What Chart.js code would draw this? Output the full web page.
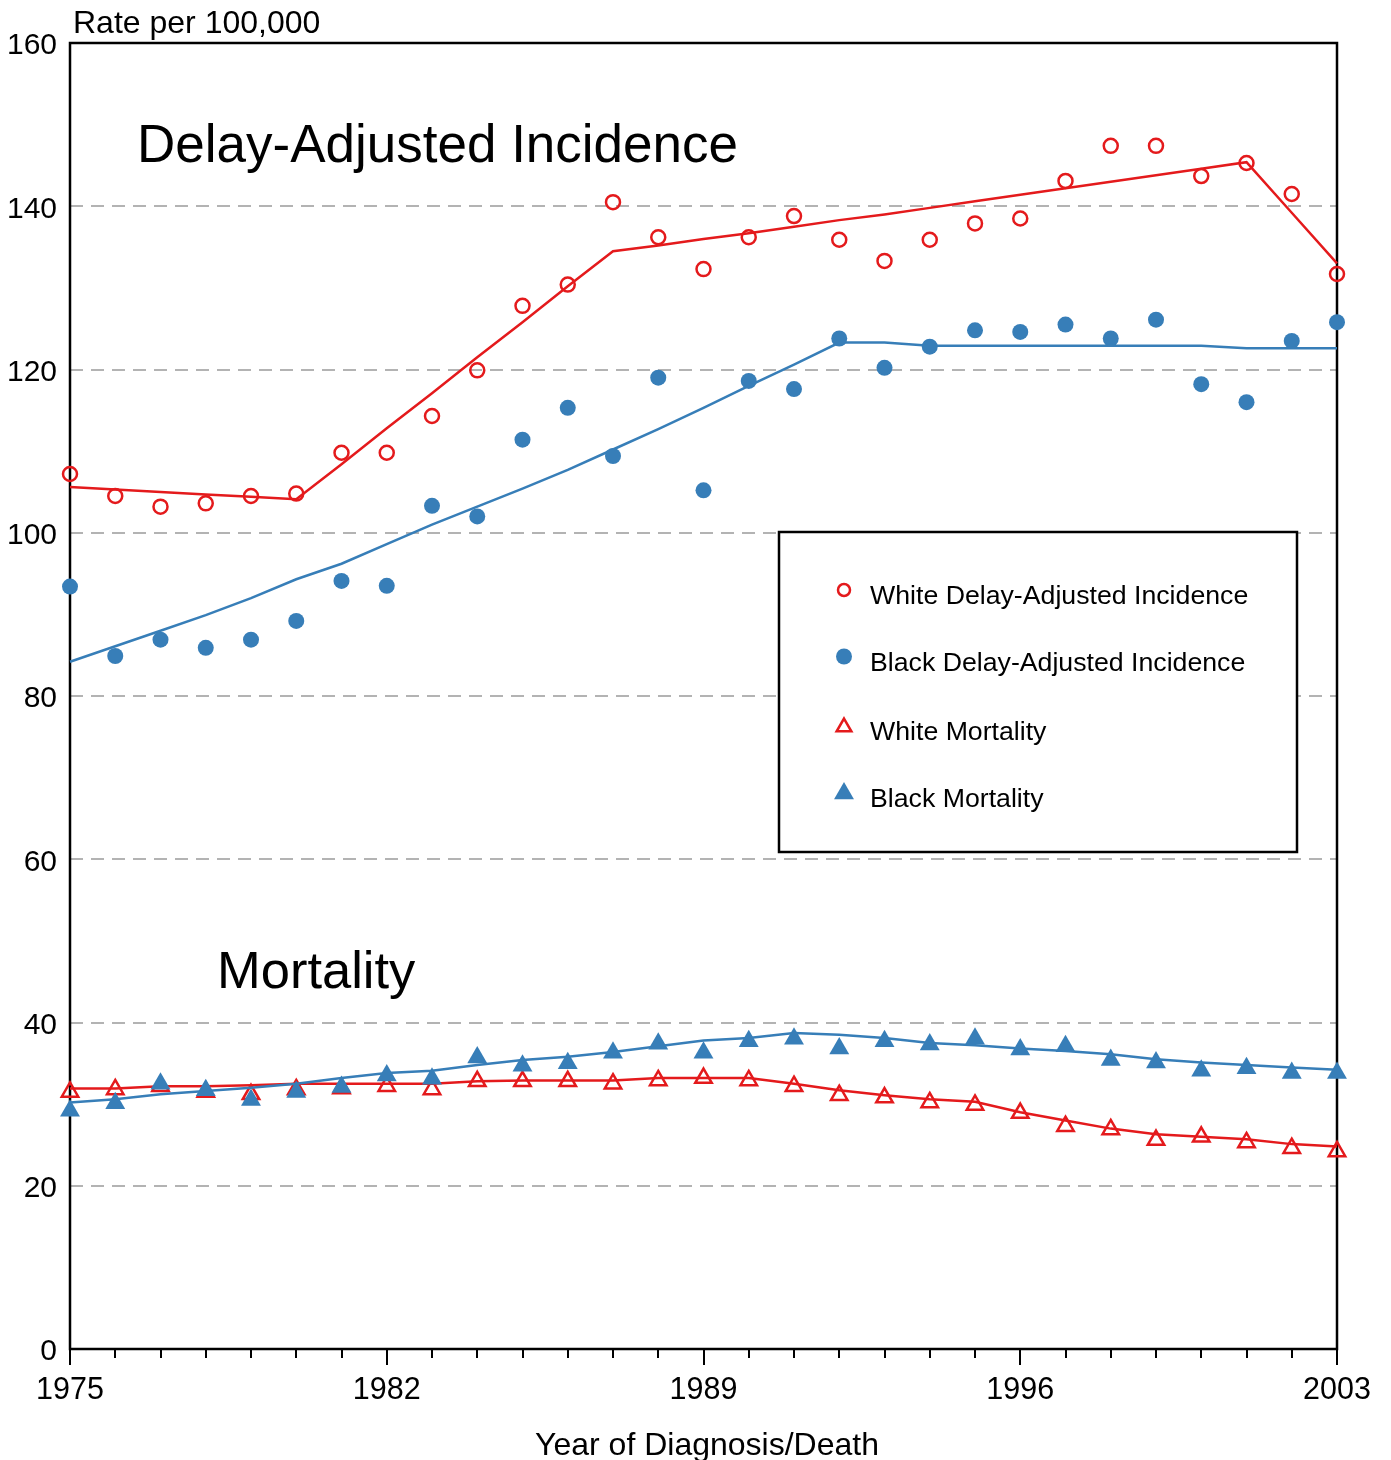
<!DOCTYPE html>
<html>
<head>
    <meta charset="utf-8">
    <title>Delay-Adjusted Incidence and Mortality, 1975-2003</title>
    <script src="https://cdn.jsdelivr.net/npm/chart.js"></script>
    <style>
        * {
            margin: 0;
            padding: 0;
            box-sizing: border-box;
        }

        body {
            background: #fff;
            width: 1391px;
            height: 1460px;
            overflow: hidden;
        }

        #rateChart {
            display: block;
        }
    </style>
</head>
<body>
    <canvas id="rateChart" width="1391" height="1460"></canvas>

    <script>
        // Year of diagnosis / death
        const years = [1975, 1976, 1977, 1978, 1979, 1980, 1981, 1982, 1983, 1984,
                       1985, 1986, 1987, 1988, 1989, 1990, 1991, 1992, 1993, 1994,
                       1995, 1996, 1997, 1998, 1999, 2000, 2001, 2002, 2003];

        // Observed rates per 100,000
        const whiteIncidence = [107.2, 104.5, 103.2, 103.6, 104.5, 104.8, 109.8, 109.8, 114.3, 119.9,
                                127.8, 130.4, 140.5, 136.2, 132.3, 136.2, 138.8, 135.9, 133.3, 135.9,
                                137.9, 138.5, 143.1, 147.4, 147.4, 143.7, 145.3, 141.5, 131.7];
        const blackIncidence = [93.4, 84.9, 86.9, 85.9, 86.9, 89.2, 94.1, 93.5, 103.3, 102.0,
                                111.4, 115.3, 109.4, 119.0, 105.2, 118.6, 117.6, 123.8, 120.2, 122.8,
                                124.8, 124.6, 125.5, 123.8, 126.1, 118.2, 116.0, 123.5, 125.8];
        const whiteMortality = [31.5, 31.8, 32.2, 31.5, 31.2, 31.8, 31.9, 32.2, 31.8, 32.8,
                                32.8, 32.8, 32.5, 32.9, 33.2, 32.9, 32.2, 31.1, 30.8, 30.2,
                                29.9, 28.9, 27.3, 26.9, 25.6, 26.0, 25.3, 24.6, 24.2];
        const blackMortality = [29.2, 30.1, 32.5, 31.7, 30.5, 31.5, 32.1, 33.5, 33.1, 35.7,
                                34.7, 35.0, 36.3, 37.4, 36.3, 37.7, 38.0, 36.8, 37.7, 37.3,
                                38.0, 36.7, 37.1, 35.4, 35.1, 34.1, 34.4, 33.8, 33.8];

        // Fitted (joinpoint) trends
        const whiteIncidenceFit = [105.6, 105.3, 105.0, 104.7, 104.4, 104.1, 108.4, 112.8, 117.1, 121.5,
                                   125.8, 130.2, 134.5, 135.2, 136.0, 136.7, 137.5, 138.3, 139.0, 139.8,
                                   140.6, 141.4, 142.2, 143.0, 143.8, 144.6, 145.4, 139.2, 133.0];
        const blackIncidenceFit = [84.2, 86.1, 88.0, 89.9, 92.0, 94.3, 96.2, 98.6, 101.0, 103.2,
                                   105.4, 107.7, 110.2, 112.7, 115.3, 118.0, 120.6, 123.3, 123.3, 122.9,
                                   122.9, 122.9, 122.9, 122.9, 122.9, 122.9, 122.6, 122.6, 122.6];
        const whiteMortalityFit = [31.9, 31.9, 32.2, 32.2, 32.3, 32.5, 32.5, 32.5, 32.5, 32.8,
                                   32.9, 32.9, 32.9, 33.2, 33.2, 33.2, 32.5, 31.7, 31.1, 30.6,
                                   30.3, 29.0, 28.0, 27.0, 26.3, 26.0, 25.7, 25.1, 24.8];
        const blackMortalityFit = [30.2, 30.6, 31.2, 31.6, 32.0, 32.5, 33.2, 33.8, 34.1, 34.8,
                                   35.4, 35.8, 36.4, 37.1, 37.8, 38.1, 38.7, 38.5, 38.1, 37.5,
                                   37.2, 36.8, 36.5, 36.1, 35.5, 35.1, 34.8, 34.5, 34.2];

        const seriesNames = ['White Delay-Adjusted Incidence', 'Black Delay-Adjusted Incidence',
                             'White Mortality', 'Black Mortality'];
        const yTicks = [0, 20, 40, 60, 80, 100, 120, 140, 160];
        const xLabelYears = [1975, 1982, 1989, 1996, 2003];

        const RED = '#e41a1c';
        const BLUE = '#377eb8';
        const FONT = '"Liberation Sans", Arial, sans-serif';

        const toPoints = arr => years.map((yr, i) => ({ x: yr, y: arr[i] }));

        // Observed series: markers only
        const markerSet = (label, arr, color, style, radius, open, order) => ({
            label: label,
            data: toPoints(arr),
            showLine: false,
            pointStyle: style,
            pointRadius: radius,
            pointBorderWidth: open ? 2.5 : 0,
            pointBorderColor: color,
            pointBackgroundColor: open ? 'rgba(0,0,0,0)' : color,
            borderColor: color,
            clip: false,
            order: order
        });

        // Fitted series: plain lines
        const trendSet = (arr, color, order) => ({
            label: '',
            data: toPoints(arr),
            borderColor: color,
            borderWidth: 2.5,
            pointRadius: 0,
            tension: 0,
            fill: false,
            clip: false,
            order: order
        });

        // Frame, tick marks, annotations and legend
        const overlay = {
            id: 'overlay',
            beforeDatasetsDraw(chart) {
                const { ctx, chartArea: a } = chart;
                ctx.save();
                ctx.strokeStyle = '#000';
                ctx.lineWidth = 2.5;
                ctx.strokeRect(a.left, a.top, a.right - a.left, a.bottom - a.top);
                ctx.restore();
            },
            afterDraw(chart) {
                const { ctx, chartArea: a } = chart;
                const xs = chart.scales.x;
                ctx.save();

                // year ticks below the axis
                ctx.strokeStyle = '#000';
                ctx.lineWidth = 2;
                years.forEach(yr => {
                    const px = Math.round(xs.getPixelForValue(yr));
                    const len = xLabelYears.includes(yr) ? 16 : 9;
                    ctx.beginPath();
                    ctx.moveTo(px, a.bottom);
                    ctx.lineTo(px, a.bottom + len);
                    ctx.stroke();
                });

                ctx.fillStyle = '#000';
                ctx.textBaseline = 'alphabetic';
                ctx.textAlign = 'left';
                ctx.font = '32px ' + FONT;
                ctx.fillText('Rate per 100,000', 73, 33);

                ctx.font = '53px ' + FONT;
                ctx.fillText('Delay-Adjusted Incidence', 137, 162);
                ctx.font = '52.5px ' + FONT;
                ctx.fillText('Mortality', 217, 988);

                ctx.textAlign = 'center';
                ctx.font = '32px ' + FONT;
                ctx.fillText('Year of Diagnosis/Death', 707, 1455);

                // legend box
                ctx.fillStyle = '#fff';
                ctx.fillRect(779, 532, 518, 320);
                ctx.strokeStyle = '#000';
                ctx.lineWidth = 2.5;
                ctx.strokeRect(779, 532, 518, 320);

                const entries = [
                    { style: 'circle', radius: 6, open: true, color: RED, my: 590, ty: 604 },
                    { style: 'circle', radius: 8, open: false, color: BLUE, my: 656.5, ty: 671 },
                    { style: 'triangle', radius: 8.5, open: true, color: RED, my: 727, ty: 739.5 },
                    { style: 'triangle', radius: 11.5, open: false, color: BLUE, my: 793.5, ty: 806.5 }
                ];
                entries.forEach((e, i) => {
                    ctx.save();
                    ctx.fillStyle = e.open ? 'rgba(0,0,0,0)' : e.color;
                    ctx.strokeStyle = e.color;
                    Chart.helpers.drawPoint(ctx, {
                        pointStyle: e.style,
                        rotation: 0,
                        radius: e.radius,
                        borderWidth: e.open ? 2.5 : 0
                    }, 844, e.my);
                    ctx.restore();
                    ctx.fillStyle = '#000';
                    ctx.textAlign = 'left';
                    ctx.font = '26.7px ' + FONT;
                    ctx.fillText(seriesNames[i], 870, e.ty);
                });

                ctx.restore();
            }
        };

        const ctx = document.getElementById('rateChart').getContext('2d');
        const chart = new Chart(ctx, {
            type: 'line',
            data: {
                datasets: [
                    markerSet(seriesNames[1], blackIncidence, BLUE, 'circle', 8, false, 0),
                    markerSet(seriesNames[3], blackMortality, BLUE, 'triangle', 11.5, false, 0),
                    trendSet(blackIncidenceFit, BLUE, 1),
                    trendSet(blackMortalityFit, BLUE, 1),
                    markerSet(seriesNames[0], whiteIncidence, RED, 'circle', 7, true, 2),
                    markerSet(seriesNames[2], whiteMortality, RED, 'triangle', 9.5, true, 2),
                    trendSet(whiteIncidenceFit, RED, 3),
                    trendSet(whiteMortalityFit, RED, 3)
                ]
            },
            options: {
                responsive: false,
                animation: false,
                devicePixelRatio: 1,
                layout: {
                    padding: { top: 43, right: 54, left: 0, bottom: 0 }
                },
                plugins: {
                    legend: { display: false },
                    tooltip: { enabled: false }
                },
                scales: {
                    x: {
                        type: 'linear',
                        min: years[0],
                        max: years[years.length - 1],
                        grid: { display: false, drawTicks: false },
                        border: { display: false },
                        ticks: {
                            stepSize: 1,
                            autoSkip: false,
                            maxRotation: 0,
                            padding: 23,
                            color: '#000',
                            font: { size: 30.5, family: FONT },
                            callback: v => xLabelYears.includes(v) ? String(v) : ''
                        },
                        afterFit: s => {
                            s.height = 111;
                            s.paddingLeft = 0;
                            s.paddingRight = 0;
                        }
                    },
                    y: {
                        min: yTicks[0],
                        max: yTicks[yTicks.length - 1],
                        grid: {
                            drawTicks: false,
                            lineWidth: 2,
                            color: c => (c.tick && (c.tick.value === 0 || c.tick.value === 160))
                                ? 'rgba(0,0,0,0)' : '#b3b3b3'
                        },
                        border: { display: false, dash: [13, 8] },
                        ticks: {
                            stepSize: 20,
                            padding: 13,
                            labelOffset: 3,
                            color: '#000',
                            font: { size: 30, family: FONT }
                        },
                        afterFit: s => {
                            s.width = 70;
                            s.paddingTop = 0;
                            s.paddingBottom = 0;
                        }
                    }
                }
            },
            plugins: [overlay]
        });
    </script>
</body>
</html>
